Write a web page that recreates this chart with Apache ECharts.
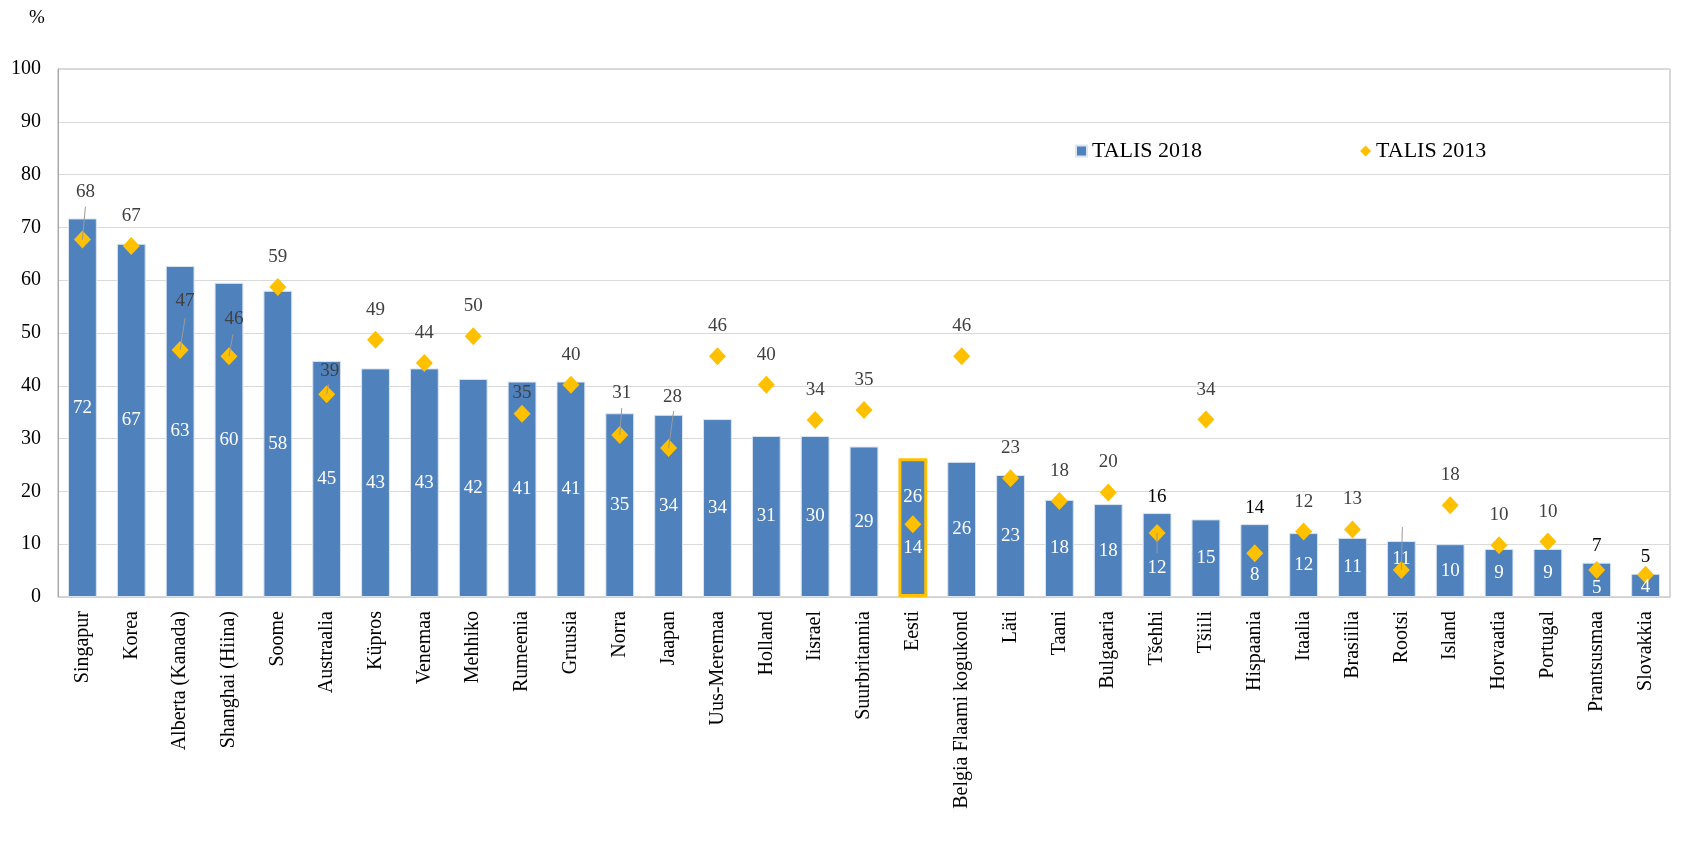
<!DOCTYPE html>
<html>
<head>
<meta charset="utf-8">
<script src="https://cdn.jsdelivr.net/npm/echarts@6/dist/echarts.min.js"></script>
<style>
  html, body { margin: 0; padding: 0; background: #fff; }
  #main { width: 1692px; height: 843px; }
</style>
</head>
<body>
<div id="main"></div>
<script>
var categories = ['Singapur', 'Korea', 'Alberta (Kanada)', 'Shanghai (Hiina)', 'Soome', 'Austraalia', 'Küpros',
  'Venemaa', 'Mehhiko', 'Rumeenia', 'Gruusia', 'Norra', 'Jaapan', 'Uus-Meremaa', 'Holland', 'Iisrael',
  'Suurbritannia', 'Eesti', 'Belgia Flaami kogukond', 'Läti', 'Taani', 'Bulgaaria', 'Tšehhi', 'Tšiili',
  'Hispaania', 'Itaalia', 'Brasiilia', 'Rootsi', 'Island', 'Horvaatia', 'Portugal', 'Prantsusmaa', 'Slovakkia'];

// TALIS 2018 (bars)
var values2018 = [71.7, 66.9, 62.7, 59.5, 58.0, 44.7, 43.3, 43.3, 41.3, 40.8, 40.8, 34.8, 34.5, 33.7, 30.5, 30.5,
  28.5, 26.3, 25.6, 23.1, 18.4, 17.6, 15.9, 14.7, 13.8, 12.1, 11.2, 10.6, 10.0, 9.1, 9.1, 6.5, 4.4];
var labels2018 = [72, 67, 63, 60, 58, 45, 43, 43, 42, 41, 41, 35, 34, 34, 31, 30,
  29, 26, 26, 23, 18, 18, 16, 15, 14, 12, 11, 11, 10, 9, 9, 7, 5];

// TALIS 2013 (diamonds)
var values2013 = [67.7, 66.5, 46.8, 45.6, 58.7, 38.4, 48.7, 44.3, 49.4, 34.7, 40.2, 30.7, 28.2, 45.6, 40.2, 33.5,
  35.4, 13.8, 45.6, 22.5, 18.2, 19.8, 12.1, 33.6, 8.3, 12.4, 12.8, 5.1, 17.4, 9.8, 10.5, 5.1, 4.2];
var labels2013 = [68, 67, 47, 46, 59, 39, 49, 44, 50, 35, 40, 31, 28, 46, 40, 34,
  35, 14, 46, 23, 18, 20, 12, 34, 8, 12, 13, '', 18, 10, 10, 5, 4];

var yTicks = [0, 10, 20, 30, 40, 50, 60, 70, 80, 90, 100];

var FONT = '"Liberation Serif", "Times New Roman", serif';
var BLUE = '#4F81BD';
var GOLD = '#FFC000';

// label tweaks (by category index)
var barLabelFix = {
  17: { offset: [0, -31] },
  22: { position: 'top', distance: 7, color: '#000' },
  24: { position: 'top', distance: 7, color: '#000' },
  27: { offset: [0, -10] },
  31: { position: 'top', distance: 7, color: '#000' },
  32: { position: 'top', distance: 7, color: '#000' }
};
var dotLabelFix = {
  0: { offset: [3, -48] },
  2: { offset: [5, -49] },
  3: { offset: [5, -37] },
  5: { offset: [3, -23] },
  9: { offset: [0, -21] },
  11: { offset: [2, -42] },
  12: { offset: [4, -51] },
  17: { offset: [0, 24], color: '#fff' },
  22: { offset: [0, 35], color: '#fff' },
  24: { offset: [0, 22], color: '#fff' },
  27: { offset: [1, -43] },
  31: { offset: [0, 18], color: '#fff' },
  32: { offset: [0, 12], color: '#fff' }
};
// leader lines: pixel end point relative to the diamond centre
var leaderFix = {
  0: [3, -33],
  2: [5, -32],
  3: [4, -22],
  5: [2, -10],
  11: [2, -27],
  12: [5, -37],
  22: [0, 20],
  27: [1, -43]
};

var barData = values2018.map(function (v, i) {
  var item = { value: v };
  var f = barLabelFix[i];
  if (f) {
    item.label = {};
    if (f.position) { item.label.position = f.position; item.label.distance = f.distance; }
    if (f.offset) item.label.offset = f.offset;
    if (f.color) item.label.color = f.color;
  }
  if (categories[i] === 'Eesti') {
    item.itemStyle = { borderColor: GOLD, borderWidth: 3 };
  }
  return item;
});

var dotData = values2013.map(function (v, i) {
  var item = { value: v };
  var f = dotLabelFix[i];
  if (f) {
    item.label = { offset: f.offset };
    if (f.color) item.label.color = f.color;
  }
  return item;
});

var leaderData = Object.keys(leaderFix).map(function (k) {
  return [+k, values2013[+k]];
});

var myChart = echarts.init(document.getElementById('main'), null, { renderer: 'canvas' });

var option = {
  animation: false,
  title: {
    text: '%',
    left: 24,
    top: 4,
    textStyle: { fontFamily: FONT, fontSize: 19, fontWeight: 'normal', color: '#000' }
  },
  legend: {
    left: 1070,
    top: 135,
    itemGap: 158,
    itemWidth: 11,
    itemHeight: 11,
    textStyle: { fontFamily: FONT, fontSize: 22, color: '#000' },
    data: [
      { name: 'TALIS 2018', icon: 'rect' },
      { name: 'TALIS 2013', icon: 'diamond' }
    ]
  },
  grid: {
    left: 58,
    right: 22,
    top: 69,
    bottom: 246,
    show: true,
    borderColor: '#b0b0b0',
    borderWidth: 1
  },
  xAxis: {
    type: 'category',
    data: categories,
    axisLine: { lineStyle: { color: '#d0d0d0' } },
    axisTick: { show: false },
    axisLabel: {
      rotate: 90,
      margin: 14,
      interval: 0,
      fontFamily: FONT,
      fontSize: 20,
      color: '#000'
    }
  },
  yAxis: {
    type: 'value',
    min: yTicks[0],
    max: yTicks[yTicks.length - 1],
    interval: 10,
    axisLine: { show: true, lineStyle: { color: '#a6a6a6' } },
    axisTick: { show: false },
    splitLine: { lineStyle: { color: '#dadada' } },
    axisLabel: { margin: 17, fontFamily: FONT, fontSize: 20, color: '#000' }
  },
  series: [
    {
      name: 'TALIS 2018',
      type: 'bar',
      barCategoryGap: '41%',
      data: barData,
      itemStyle: { color: BLUE, borderColor: '#dbe5f1', borderWidth: 1 },
      label: {
        show: true,
        position: 'inside',
        fontFamily: FONT,
        fontSize: 19,
        color: '#fff',
        formatter: function (p) { return labels2018[p.dataIndex]; }
      },
      z: 2
    },
    {
      name: 'TALIS 2013',
      type: 'scatter',
      symbol: 'diamond',
      symbolSize: [17, 18],
      data: dotData,
      itemStyle: { color: GOLD, opacity: 1 },
      label: {
        show: true,
        position: 'inside',
        offset: [0, -30],
        fontFamily: FONT,
        fontSize: 19,
        color: '#404040',
        formatter: function (p) { return labels2013[p.dataIndex]; }
      },
      z: 3
    },
    {
      name: 'leader',
      type: 'custom',
      data: leaderData,
      silent: true,
      z: 4,
      renderItem: function (params, api) {
        var idx = api.value(0);
        var pt = api.coord([idx, api.value(1)]);
        var d = leaderFix[idx];
        return {
          type: 'line',
          shape: { x1: pt[0], y1: pt[1], x2: pt[0] + d[0], y2: pt[1] + d[1] },
          style: { stroke: '#9a9a9a', lineWidth: 1 }
        };
      }
    }
  ]
};

myChart.setOption(option);
</script>
</body>
</html>
